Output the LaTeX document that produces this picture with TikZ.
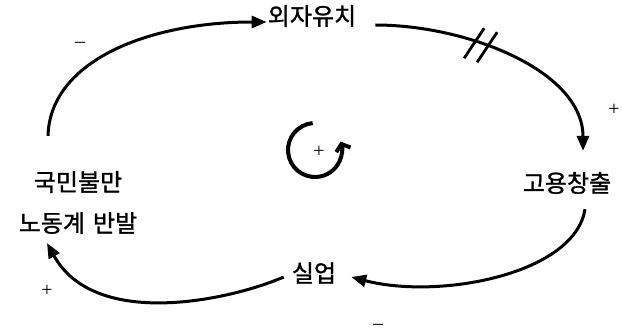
\documentclass[tikz,border=0pt]{standalone}
\usepackage{fontspec}
\setmainfont{Liberation Serif}
\newfontfamily\kofont[AutoFakeBold=1.2]{Noto Sans CJK KR}
\usetikzlibrary{arrows.meta, positioning, calc}

\begin{document}
\begin{tikzpicture}[
  x=1pt, y=1pt,
  var/.style={inner sep=1pt, text=black, font=\kofont\bfseries\fontsize{24}{28}\selectfont},
  sign/.style={inner sep=0pt, text=black, font=\fontsize{20}{22}\selectfont},
  link/.style={-{Triangle[length=15pt, width=12pt]}, line width=3pt},
  delaymark/.style={line width=2.8pt},
  loopmark/.style={-{Straight Barb[length=6pt, width=15pt]}, line width=4pt}
]
  \useasboundingbox (0,0) rectangle (623,335);

  % --- loop variables ---
  \node[var] (foreign)    at (312,319) {외자유치};
  \node[var] (jobs)       at (567,152) {고용창출};
  \node[var] (unemp)      at (314,62)  {실업};
  \node[var] (discontent) at (78,153)  {국민불만};
  \node[var] (backlash)   at (78,112)  {노동계\hspace{8pt}반발};

  % --- causal links (clockwise) ---
  \draw[link] ([xshift=-30pt, yshift=34pt]discontent.north)
        .. controls +(2,76) and +(-116,0) .. ([yshift=-6pt]foreign.west);
  \draw[link] ([xshift=18pt, yshift=-9pt]foreign.east)
        .. controls +(92,0) and +(0,80) .. ([xshift=16pt, yshift=20pt]jobs.north)
        coordinate[pos=0.37] (delay);
  \draw[link] ([xshift=18pt, yshift=-14pt]jobs.south)
        .. controls +(-10,-65) and +(88,-23) .. ([xshift=14pt, yshift=-4pt]unemp.east);
  \draw[link] ([xshift=-7pt, yshift=-4pt]unemp.west)
        .. controls +(-53,-23) and +(48,-87) .. ([xshift=-31pt, yshift=-8pt]backlash.south);

  % delay mark on the investment link
  \draw[delaymark] (delay) ++(-16,-15) -- ++(20,30);
  \draw[delaymark] (delay) ++(-3,-19) -- ++(20,30);

  % --- link polarities ---
  \node[sign] (s1) at (80,290)  {--};
  \node[sign] (s2) at (614,225) {+};
  \node[sign] (s3) at (378,8)   {--};
  \node[sign] (s4) at (47,44)   {+};

  % --- loop marker ---
  \coordinate (loopc) at (315,185);
  \draw[loopmark] (loopc) ++(95:27) arc[start angle=95, end angle=378, radius=27];
  \node[sign] (loopsign) at (319,183) {+};

\end{tikzpicture}
\end{document}
